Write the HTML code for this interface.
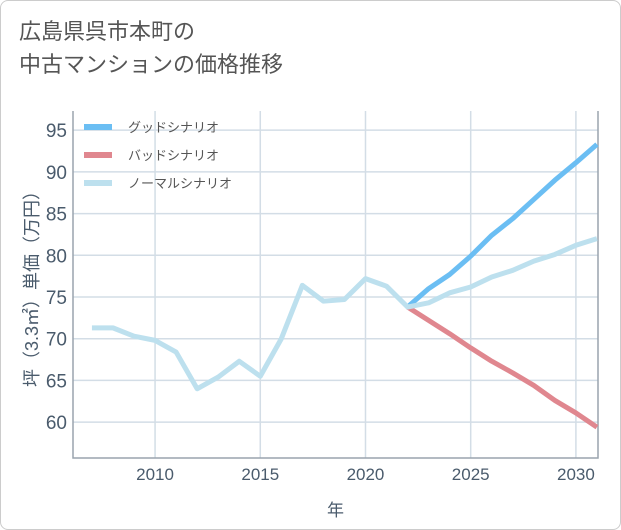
<!DOCTYPE html>
<html><head><meta charset="utf-8"><style>
body{margin:0;background:#fff;}
#wrap{position:relative;width:619px;height:528px;border:1px solid #ccc;border-radius:8px;background:#fff;overflow:hidden;}
#title{position:absolute;left:18px;top:14px;font:22px/33px "Liberation Sans","Noto Sans CJK JP",sans-serif;color:#555;}
svg{position:absolute;left:0;top:0;}
text{font-family:"Liberation Sans","Noto Sans CJK JP",sans-serif;}
</style></head><body>
<div id="wrap">
<div id="title">広島県呉市本町の<br>中古マンションの価格推移</div>
<svg id="chart" width="621" height="530"></svg>
</div>
<script>
const years=[2007,2008,2009,2010,2011,2012,2013,2014,2015,2016,2017,2018,2019,2020,2021,2022,2023,2024,2025,2026,2027,2028,2029,2030,2031];
const normalVals=[71.3,71.3,70.3,69.8,68.4,64.0,65.4,67.3,65.5,70.0,76.4,74.5,74.7,77.2,76.3,73.8,74.3,75.5,76.2,77.4,78.2,79.3,80.1,81.2,82.0];
const goodYears=[2022,2023,2024,2025,2026,2027,2028,2029,2030,2031];
const goodVals=[73.8,76.0,77.7,79.9,82.4,84.4,86.7,89.0,91.1,93.3];
const badVals=[73.8,72.2,70.6,68.9,67.3,65.9,64.4,62.6,61.1,59.4];
const xTicks=[2010,2015,2020,2025,2030];
const yTicks=[60,65,70,75,80,85,90,95];
const L=72,R=597,T=110,B=457;
const xMin=2006.1,xMax=2031.05,yMin=55.7,yMax=97.3;
const X=v=>L+(v-xMin)/(xMax-xMin)*(R-L);
const Y=v=>B-(v-yMin)/(yMax-yMin)*(B-T);
const svg=document.getElementById('chart');
const NS='http://www.w3.org/2000/svg';
function mk(t,a){const e=document.createElementNS(NS,t);for(const k in a)e.setAttribute(k,a[k]);svg.appendChild(e);return e;}
yTicks.forEach(v=>{const g=mk('line',{x1:L,x2:R,y1:Y(v),y2:Y(v),stroke:'#d3dde6','stroke-width':1.5});

const t=mk('text',{x:L-6,y:Y(v)+7,'text-anchor':'end','font-size':19,fill:'#4a5b6c'});t.textContent=v;
});
xTicks.forEach(v=>{const g=mk('line',{x1:X(v),x2:X(v),y1:T,y2:B,stroke:'#d3dde6','stroke-width':1.5});

const t=mk('text',{x:X(v),y:B+22,'text-anchor':'middle','font-size':17,fill:'#4a5b6c'});t.textContent=v;
});
const ax=mk('path',{d:`M${L} ${T}V${B}H${R}V${T}`,fill:'none',stroke:'#9aa4ad','stroke-width':1.5});

function line(xs,vs,c,n){const p=mk('polyline',{points:xs.map((x,i)=>X(x)+','+Y(vs[i])).join(' '),fill:'none',stroke:c,'stroke-width':5,'stroke-linejoin':'round'});
}
line(goodYears,badVals,'#e0878f','bad-scenario-line');
line(goodYears,goodVals,'#6bbef3','good-scenario-line');
line(years,normalVals,'#bde0ee','normal-scenario-line');
const leg=[['グッドシナリオ','#6bbef3'],['バッドシナリオ','#e0878f'],['ノーマルシナリオ','#bde0ee']];
leg.forEach((l,i)=>{const y=126+i*28;
const r=mk('line',{x1:83,x2:111,y1:y,y2:y,stroke:l[1],'stroke-width':6});

const t=mk('text',{x:127,y:y+5,'font-size':13,fill:'#555'});t.textContent=l[0];
});
const yt=mk('text',{x:0,y:0,'font-size':18,fill:'#4a5b6c','text-anchor':'middle',transform:`translate(37,${(T+B)/2}) rotate(-90)`});
yt.textContent='坪（3.3㎡）単価（万円）';
const xt=mk('text',{x:(L+R)/2,y:515,'font-size':17,fill:'#4a5b6c','text-anchor':'middle'});
xt.textContent='年';
</script>
</body></html>
